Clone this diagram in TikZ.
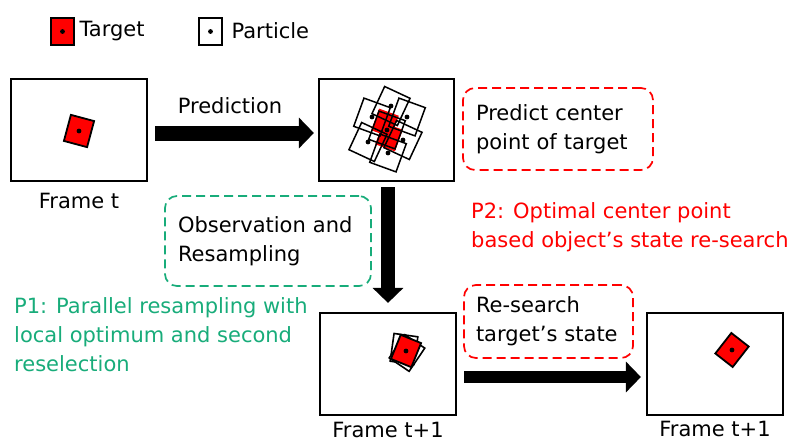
\documentclass[tikz,border=0pt]{standalone}
\usepackage{fontspec}
\setmainfont{DejaVu Sans}
\usetikzlibrary{arrows.meta}
\definecolor{pred}{RGB}{255,0,0}
\definecolor{pgreen}{RGB}{24,172,122}
\newcommand{\txtsize}{\fontsize{21pt}{29pt}\selectfont}
\tikzset{
  frame/.style={draw,line width=2.2pt,minimum width=136pt,minimum height=102pt,inner sep=0pt},
  tgt/.style={draw,fill=pred,line width=1.8pt,inner sep=0pt},
  ptcl/.style={draw,line width=1.5pt,inner sep=0pt,minimum width=28pt,minimum height=30pt},
  dbox/.style={dashed,dash pattern=on 9pt off 5pt,line width=1.7pt,rounded corners=12pt,align=left},
  rbox/.style={dbox,draw=pred},
  gbox/.style={dbox,draw=pgreen},
  bigarrow/.style={line width=#1,-{Triangle[length=15pt,width=30pt]}},
}
\begin{document}
\begin{tikzpicture}[x=1pt,y=-1pt,font=\txtsize]
  \useasboundingbox (0,0) rectangle (792,444);
  % legend
  \node[tgt,minimum width=23pt,minimum height=27pt] (lt) at (62.5,31.5) {};
  \fill (lt) circle (2.4pt);
  \node[anchor=west] (ltxt) at (76,31) {Target};
  \node[ptcl,line width=1.8pt,minimum width=23pt,minimum height=27pt] (lp) at (210.5,31.5) {};
  \fill (lp) circle (2.4pt);
  \node[anchor=west] (lptxt) at (228,31) {Particle};
  % frames
  \node[frame,label={[label distance=8pt]below:Frame t}] (ft) at (79,130) {};
  \node[frame,minimum width=135pt] (fp) at (386.5,130) {};
  \node[frame,label={[label distance=3pt]below:Frame t+1}] (fo) at (388,364) {};
  \node[frame,label={[label distance=2pt]below:Frame t+1}] (fr) at (715,364) {};
  % targets
  \node[tgt,minimum width=24pt,minimum height=27pt,rotate=-15] (t1) at (79,131) {};
  \fill (t1) circle (2.4pt);
  \node[tgt,draw=none,minimum width=21pt,minimum height=23pt,rotate=-20] (r1) at (385,123) {};
  \node[tgt,draw=none,minimum width=21pt,minimum height=23pt,rotate=-20] (r2) at (389,137) {};
  \foreach \px/\py/\pa [count=\i] in {372/117/-20,391/106/-25,407/117/-20,403/140/-25,388/153/-20,368/142/-25,387/130/-20}{
    \node[ptcl,rotate=\pa] (p\i) at (\px,\py) {};
    \fill (p\i) circle (2.4pt);
  }
  \node[ptcl,fill=white,line width=1.6pt,minimum width=24pt,minimum height=28pt,rotate=-8] (b1) at (404,349) {};
  \node[ptcl,fill=white,line width=1.6pt,minimum width=24pt,minimum height=28pt,rotate=-34] (b2) at (407,353) {};
  \node[tgt,minimum width=22pt,minimum height=26pt,rotate=-22] (t3) at (406,351) {};
  \fill (t3) circle (2.4pt);
  \node[tgt,minimum width=22pt,minimum height=26pt,rotate=-38] (t4) at (732,350) {};
  \fill (t4) circle (2.4pt);
  % arrows
  \draw[bigarrow=15pt] ([shift={(7,3)}]ft.east) -- ([shift={(-4,3)}]fp.west);
  \node (pred) at (230,106) {Prediction};
  \draw[bigarrow=14pt] ([shift={(1.5,5)}]fp.south) -- ([shift={(0,-9)}]fo.north);
  \draw[bigarrow=12pt] ([shift={(7,13)}]fo.east) -- ([shift={(-5,13)}]fr.west);
  % notes
  \node[rbox,minimum width=190pt,minimum height=82pt,text width=164pt] (pc) at (558,129) {Predict center\\point of target};
  \node[gbox,minimum width=206pt,minimum height=90pt,text width=180pt] (obs) at (268,241) {Observation and\\Resampling};
  \node[rbox,minimum width=169pt,minimum height=73pt,text width=145pt] (rs) at (548.5,321.5) {Re-search\\target's state};
  \node[anchor=west,align=left,text=pred,inner sep=0pt] (p2) at (471,227.5) {P2: Optimal center point\\based object's state re-search};
  \node[anchor=west,align=left,text=pgreen,inner sep=0pt] (p1) at (14,335) {P1: Parallel resampling with\\local optimum and second\\reselection};
\end{tikzpicture}
\end{document}
